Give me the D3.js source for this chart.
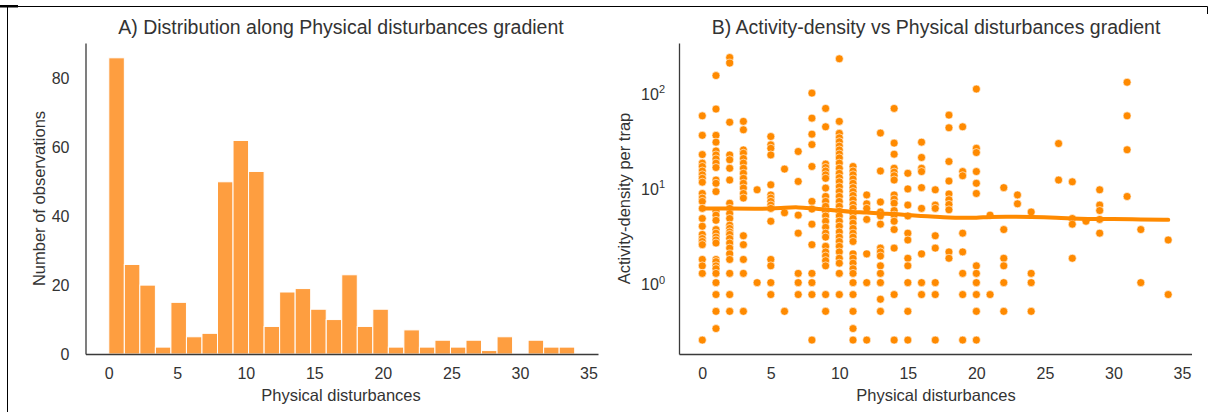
<!DOCTYPE html>
<html>
<head>
<meta charset="utf-8">
<script src="https://cdn.jsdelivr.net/npm/d3@7"></script>
<style>
  body { margin: 0; background: #fff; }
  text { font-family: "Liberation Sans", Arial, sans-serif; fill: #333; }
</style>
</head>
<body>
<script>
// ---- data ----
// histogram (30 bins between 0 and 34)
var binStart = 0, binEnd = 34
var binCounts = [86, 26, 20, 2, 15, 5, 6, 50, 62, 53, 8, 18, 19, 13, 10, 23, 8, 13, 2, 7, 2, 4, 2, 4, 1, 5, 0, 4, 2, 2]
var xTicks = [0, 5, 10, 15, 20, 25, 30, 35]
var countTicks = [0, 20, 40, 60, 80]

// scatter: activity-density per disturbance level
var disturbLevels = [0, 1, 2, 3, 4, 5, 6, 7, 8, 9, 10, 11, 12, 13, 14, 15, 16, 17, 18, 19, 20, 21, 22, 23, 24, 26, 27, 28, 29, 31, 32, 34]
var densityValues = [
  [56, 35, 22, 17.9, 16.5, 14.8, 13.5, 12.4, 11.3, 8.6, 7.7, 7.1, 6.0, 4.7, 3.9, 3.2, 2.9, 2.7, 2.5, 1.75, 1.5, 1.25, 0.25],
  [148, 66, 35, 29.7, 24, 21.8, 19.8, 17.9, 16.1, 11.9, 11, 9, 5.6, 5.1, 4.5, 3.6, 3.3, 3.0, 2.8, 2.6, 1.75, 1.66, 1.5, 1.4, 1.25, 1, 0.75, 0.5, 0.33],
  [229, 200, 48, 21.8, 19.4, 15.8, 11.9, 6.8, 6.0, 5.3, 4.7, 4.0, 3.7, 3.4, 3.2, 2.9, 2.6, 2.3, 2.0, 1.75, 1.25, 0.75, 0.5],
  [49, 40, 24.6, 22.7, 20, 17.9, 15.8, 14, 12.4, 11, 9.8, 8.6, 7.7, 3.1, 2.5, 1.75, 1.25, 0.5],
  [9.4, 1.0],
  [34, 27.8, 25.6, 21.8, 10.6, 8.3, 7.7, 7.1, 6.5, 6.0, 4.4, 1.75, 1.5, 1.0, 0.75],
  [15.5, 5.4, 0.5],
  [23.7, 11.5, 5.1, 3.3, 1.25, 1.0, 0.75],
  [97, 53, 36, 28, 16.5, 7.1, 5.9, 4.1, 2.5, 1.25, 1.0, 0.75, 0.25],
  [67, 43, 17.5, 16.1, 14.8, 13.5, 12.4, 9.8, 8.0, 7.1, 6.3, 5.6, 5.0, 4.4, 3.8, 3.3, 3.0, 2.4, 2.1, 1.9, 1.7, 1.5, 0.75, 0.5],
  [222, 49, 36.7, 33, 30, 27, 24.6, 22.3, 20.3, 17.9, 15.8, 14, 12.6, 11.4, 10.1, 9, 8, 7.1, 6.3, 5.6, 5, 4.4, 3.9, 3.4, 3.0, 2.7, 2.4, 2.1, 1.8, 1.6, 1.25, 0.75],
  [16.5, 14.8, 13.5, 12.2, 11, 9.9, 9.0, 8.2, 7.4, 6.6, 6.0, 5.3, 4.7, 4.2, 3.7, 3.3, 3.0, 2.7, 2.0, 1.8, 1.6, 1.4, 1.25, 1.0, 0.75, 0.5, 0.33, 0.25],
  [8.3, 6.7, 6.0, 4.6, 2.0, 1.0, 0.25],
  [37, 14.8, 7.0, 5.5, 5.0, 4.1, 2.3, 2.1, 1.9, 1.5, 1.25, 1.0, 0.67, 0.5],
  [67, 29, 22.2, 15.8, 14.4, 13.2, 11.9, 8.3, 7.5, 6.8, 5.7, 5.1, 4.4, 3.6, 2.3, 0.75, 0.25],
  [14, 9.6, 6.5, 5.0, 3.3, 2.8, 1.8, 1.5, 1.0, 0.5, 0.25],
  [29.7, 20.5, 15.8, 14.6, 9.9, 6.0, 2.0, 1.0, 0.75],
  [9.4, 6.5, 6.0, 3.1, 2.3, 1.0, 0.75, 0.25],
  [57, 42, 18.6, 11.6, 8.5, 7.4, 6.6, 5.8, 2.1, 1.8],
  [43, 14.6, 13.2, 3.3, 2.1, 1.25, 0.75, 0.25],
  [107, 25.6, 23.1, 14.6, 11, 8.6, 1.5, 1.25, 1.0, 0.75, 0.5, 0.25],
  [5.1, 0.75],
  [9.9, 3.6, 1.8, 1.5, 1.0, 0.5],
  [8.3, 6.7],
  [5.5, 1.25, 1.0, 0.5],
  [28.7, 11.9],
  [11.4, 4.7, 4.1, 1.8],
  [4.4],
  [9.4, 6.5, 5.7, 4.6, 3.3],
  [126, 56, 24.7, 8.0],
  [3.6, 1.0],
  [2.8, 0.75]
]
// smoothed trend
var trendX = [0, 2, 4, 5, 6, 7, 8, 9, 10, 11, 12, 13, 14, 15, 16, 17, 18, 19, 20, 21, 22, 24, 26, 27, 28, 30, 32, 34]
var trendY = [6.0, 6.0, 5.95, 5.95, 6.1, 6.2, 6.0, 5.85, 5.65, 5.5, 5.45, 5.3, 5.25, 5.1, 5.0, 4.9, 4.8, 4.78, 4.78, 4.9, 4.9, 4.9, 4.8, 4.7, 4.65, 4.65, 4.6, 4.55]
var logTicks = [1, 10, 100]

var W = 1213, H = 412
var barColor = '#fe9e40', dotColor = '#ff8a00', spineColor = '#3a3a3a'
var tickSize = '16px', labelSize = '16.5px', titleSize = '19.5px'

var svg = d3.select('body').append('svg')
  .attr('width', W).attr('height', H)

// frame lines around the figure
svg.append('path').attr('d', 'M7.5,412 V6.5 H1207.5 V14')
  .attr('fill', 'none').attr('stroke', '#000').attr('stroke-width', 1)
svg.append('rect').attr('x', 0).attr('y', 5).attr('width', 18).attr('height', 2.5).attr('fill', '#000')

var plotTop = 43, plotBottom = 354

// ---------- panel A ----------
var xA = d3.scaleLinear().domain([-1.7, 35.7]).range([85.5, 598])
var yA = d3.scaleLinear().domain([0, 90.3]).range([plotBottom, plotTop])
var gA = svg.append('g')

var binW = (binEnd - binStart) / binCounts.length
gA.selectAll('rect.bar').data(binCounts).enter().append('rect')
  .attr('class', 'bar')
  .attr('x', function(d, i) { return xA(binStart + i * binW) })
  .attr('width', function(d, i) { return xA(binStart + (i + 1) * binW) - xA(binStart + i * binW) })
  .attr('y', function(d) { return yA(d) })
  .attr('height', function(d) { return yA(0) - yA(d) })
  .attr('fill', barColor)
  .attr('stroke', '#fff').attr('stroke-width', 1)

var axA = gA.append('g').attr('transform', 'translate(0,' + plotBottom + ')')
  .call(d3.axisBottom(xA).tickValues(xTicks).tickSize(0).tickPadding(14))
var ayA = gA.append('g').attr('transform', 'translate(85.5,0)')
  .call(d3.axisLeft(yA).tickValues(countTicks).tickSize(0).tickPadding(16))
;[axA, ayA].forEach(function(a) {
  a.select('.domain').attr('stroke', spineColor).attr('stroke-width', 1.3)
  a.selectAll('text').style('font-size', tickSize).attr('fill', '#333')
})

gA.append('text').attr('x', 341).attr('y', 34).attr('text-anchor', 'middle')
  .style('font-size', titleSize).text('A) Distribution along Physical disturbances gradient')
gA.append('text').attr('x', 341).attr('y', 401).attr('text-anchor', 'middle')
  .style('font-size', labelSize).text('Physical disturbances')
gA.append('text').attr('transform', 'translate(45,' + ((plotTop + plotBottom) / 2) + ') rotate(-90)')
  .attr('text-anchor', 'middle').style('font-size', labelSize).text('Number of observations')

// ---------- panel B ----------
var xB = d3.scaleLinear().domain([-1.7, 35.7]).range([679, 1191.5])
var yB = d3.scaleLog().domain([0.1786, 325]).range([plotBottom, plotTop])
var gB = svg.append('g')

var pts = []
disturbLevels.forEach(function(x, i) {
  densityValues[i].forEach(function(v) { pts.push({x: x, y: v}) })
})

gB.selectAll('circle').data(pts).enter().append('circle')
  .attr('cx', function(d) { return xB(d.x) })
  .attr('cy', function(d) { return yB(d.y) })
  .attr('r', 4)
  .attr('fill', dotColor)
  .attr('stroke', '#fff').attr('stroke-width', 0.6)

var trend = d3.line()
  .x(function(d, i) { return xB(trendX[i]) })
  .y(function(d) { return yB(d) })
  .curve(d3.curveBasis)
gB.append('path').datum(trendY).attr('d', trend)
  .attr('fill', 'none').attr('stroke', dotColor).attr('stroke-width', 4)
  .attr('stroke-linecap', 'round')

var axB = gB.append('g').attr('transform', 'translate(0,' + plotBottom + ')')
  .call(d3.axisBottom(xB).tickValues(xTicks).tickSize(0).tickPadding(14))
var ayB = gB.append('g').attr('transform', 'translate(679,0)')
  .call(d3.axisLeft(yB).tickValues(logTicks).tickSize(0).tickPadding(14).tickFormat(''))
;[axB, ayB].forEach(function(a) {
  a.select('.domain').attr('stroke', spineColor).attr('stroke-width', 1.3)
  a.selectAll('text').style('font-size', tickSize).attr('fill', '#333')
})
// log tick labels as 10 with superscript
ayB.selectAll('.tick text').each(function(d) {
  var t = d3.select(this).text('')
  t.attr('dy', '0.45em')
  t.append('tspan').text('10')
  t.append('tspan').attr('dy', '-0.6em').style('font-size', '11px').text(Math.round(Math.log10(d)))
})

gB.append('text').attr('x', 936).attr('y', 34).attr('text-anchor', 'middle')
  .style('font-size', titleSize).text('B) Activity-density vs Physical disturbances gradient')
gB.append('text').attr('x', 936).attr('y', 401).attr('text-anchor', 'middle')
  .style('font-size', labelSize).text('Physical disturbances')
gB.append('text').attr('transform', 'translate(630,' + ((plotTop + plotBottom) / 2) + ') rotate(-90)')
  .attr('text-anchor', 'middle').style('font-size', labelSize).text('Activity-density per trap')
</script>
</body>
</html>
